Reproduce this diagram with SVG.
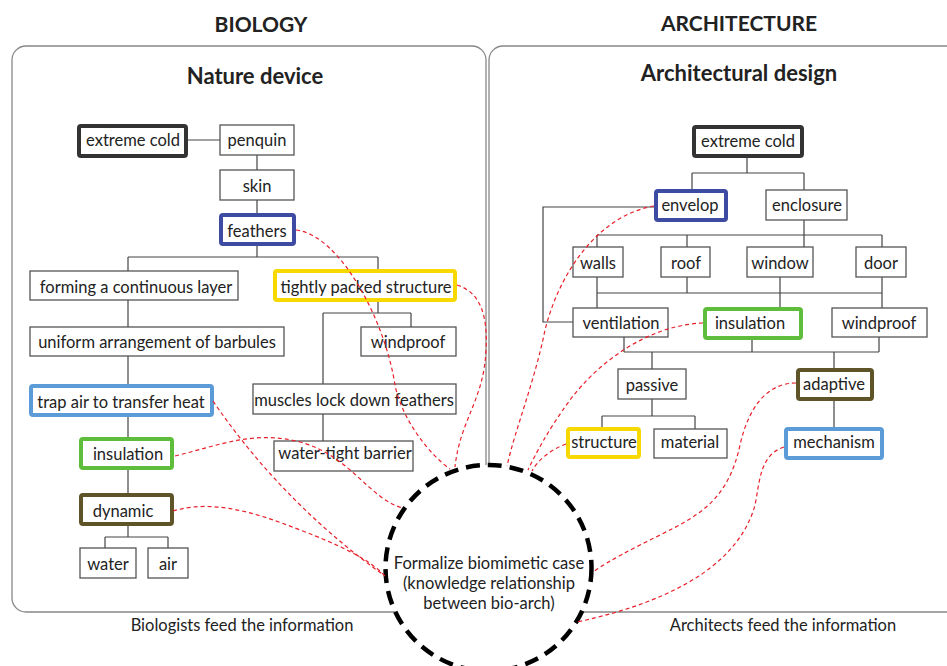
<svg xmlns="http://www.w3.org/2000/svg" width="947" height="666" viewBox="0 0 947 666">
<style>
text{font-family:Lato,"Liberation Sans",sans-serif;fill:#222;}
.t{font-size:16.5px;text-anchor:middle;dominant-baseline:central;}
.h{font-size:21px;font-weight:bold;text-anchor:middle;}
.s{font-size:22px;font-weight:bold;text-anchor:middle;}
.f{font-size:16.5px;text-anchor:middle;}
.n{fill:#fff;stroke:#555;stroke-width:1.3;}
.k{fill:#fff;stroke:#333;stroke-width:4;}
.b{fill:#fff;stroke:#3D4BA3;stroke-width:4;}
.y{fill:#fff;stroke:#F7D800;stroke-width:4;}
.g{fill:#fff;stroke:#5EBE3C;stroke-width:4;}
.o{fill:#fff;stroke:#5E5428;stroke-width:4;}
.l{fill:#fff;stroke:#5B9BD8;stroke-width:4;}
.c{fill:none;stroke:#444;stroke-width:1.2;}
.r{fill:none;stroke:#E8202A;stroke-width:1.2;stroke-dasharray:4 3;}
.p{fill:none;stroke:#888;stroke-width:1.3;}
</style>
<rect width="947" height="666" fill="#fff"/>
<g id="panels">
<rect class="p" x="12" y="46" width="474" height="566" rx="14"/>
<rect class="p" x="489" y="46" width="520" height="566" rx="14"/>
<text class="h" x="261" y="32">BIOLOGY</text>
<text class="h" x="739" y="31">ARCHITECTURE</text>
<text class="s" x="255" y="84">Nature device</text>
<text class="s" x="739" y="81">Architectural design</text>
<text class="f" x="242" y="631">Biologists feed the information</text>
<text class="f" x="783" y="631">Architects feed the information</text>
</g>
<g id="tree-lines">
<path class="c" d="M187,140H220 M257,155V170 M257,200V213 M257,246V257 M128,257H378 M128,257V271 M378,257V269 M128,300V327 M128,356V384 M128,417V437 M128,469V493 M128,526V537 M105,537H168 M105,537V548 M168,537V548 M378,302V313 M323,313H411 M411,313V327 M323,313V384 M323,414V441"/>
<path class="c" d="M747,157V173 M692,173H804 M692,173V189 M804,173V190 M654,207H543V322H573 M804,220V235 M597,235H882 M597,235V247 M687,235V247 M804,235V247 M882,235V247 M597,277V308 M687,277V293 M882,277V308 M597,293H882 M780,277V307 M624,337V352 M752,339V352 M879,337V352 M624,352H879 M652,352V369 M834,352V368 M652,399V416 M602,416H695 M602,416V427 M695,416V429 M834,401V427"/>
</g>
<g id="n-bio-cold"><rect class="k" x="79" y="126" width="107" height="30" rx="2"/><text class="t" x="133" y="140">extreme cold</text></g>
<g id="n-penquin"><rect class="n" x="220" y="125" width="74" height="30"/><text class="t" x="257" y="140">penquin</text></g>
<g id="n-skin"><rect class="n" x="220" y="170" width="74" height="30"/><text class="t" x="257" y="186">skin</text></g>
<g id="n-feathers"><rect class="b" x="221" y="215" width="73" height="29" rx="2"/><text class="t" x="257" y="231">feathers</text></g>
<g id="n-forming"><rect class="n" x="30" y="271" width="208" height="29"/><text class="t" x="136" y="287">forming a continuous layer</text></g>
<g id="n-tightly"><rect class="y" x="275" y="271" width="180" height="29" rx="2"/><text class="t" x="366" y="287">tightly packed structure</text></g>
<g id="n-uniform"><rect class="n" x="30" y="327" width="254" height="29"/><text class="t" x="157" y="342">uniform arrangement of barbules</text></g>
<g id="n-windproof-b"><rect class="n" x="361" y="327" width="95" height="29"/><text class="t" x="408" y="342">windproof</text></g>
<g id="n-trap"><rect class="l" x="31" y="386" width="181" height="29" rx="2"/><text class="t" x="121" y="402">trap air to transfer heat</text></g>
<g id="n-muscles"><rect class="n" x="253" y="384" width="203" height="30"/><text class="t" x="354" y="400">muscles lock down feathers</text></g>
<g id="n-insul-b"><rect class="g" x="81" y="439" width="91" height="29" rx="2"/><text class="t" x="128" y="454">insulation</text></g>
<g id="n-watertight"><rect class="n" x="274" y="441" width="139" height="30"/><text class="t" x="345" y="453">water-tight barrier</text></g>
<g id="n-dynamic"><rect class="o" x="81" y="495" width="91" height="29" rx="2"/><text class="t" x="123" y="511">dynamic</text></g>
<g id="n-water"><rect class="n" x="80" y="548" width="56" height="30"/><text class="t" x="108" y="564">water</text></g>
<g id="n-air"><rect class="n" x="148" y="548" width="40" height="30"/><text class="t" x="168" y="564">air</text></g>
<g id="n-arch-cold"><rect class="k" x="694" y="127" width="108" height="29" rx="2"/><text class="t" x="748" y="141">extreme cold</text></g>
<g id="n-envelop"><rect class="b" x="656" y="191" width="70" height="29" rx="2"/><text class="t" x="690" y="205">envelop</text></g>
<g id="n-enclosure"><rect class="n" x="766" y="190" width="81" height="30"/><text class="t" x="807" y="205">enclosure</text></g>
<g id="n-walls"><rect class="n" x="573" y="247" width="50" height="30"/><text class="t" x="598" y="263">walls</text></g>
<g id="n-roof"><rect class="n" x="661" y="247" width="49" height="30"/><text class="t" x="686" y="263">roof</text></g>
<g id="n-window"><rect class="n" x="747" y="247" width="66" height="30"/><text class="t" x="780" y="263">window</text></g>
<g id="n-door"><rect class="n" x="856" y="247" width="50" height="30"/><text class="t" x="881" y="263">door</text></g>
<g id="n-ventilation"><rect class="n" x="573" y="308" width="95" height="29"/><text class="t" x="621" y="323">ventilation</text></g>
<g id="n-insul-a"><rect class="g" x="705" y="309" width="96" height="29" rx="2"/><text class="t" x="750" y="323">insulation</text></g>
<g id="n-windproof-a"><rect class="n" x="832" y="308" width="95" height="29"/><text class="t" x="879" y="323">windproof</text></g>
<g id="n-passive"><rect class="n" x="618" y="369" width="68" height="30"/><text class="t" x="652" y="385">passive</text></g>
<g id="n-adaptive"><rect class="o" x="798" y="370" width="74" height="29" rx="2"/><text class="t" x="834" y="384">adaptive</text></g>
<g id="n-structure"><rect class="y" x="568" y="429" width="71" height="28" rx="2"/><text class="t" x="604" y="442">structure</text></g>
<g id="n-material"><rect class="n" x="654" y="429" width="73" height="29"/><text class="t" x="690" y="442">material</text></g>
<g id="n-mechanism"><rect class="l" x="786" y="429" width="96" height="29" rx="2"/><text class="t" x="834" y="442">mechanism</text></g>
<g id="n-center">
<circle cx="488.5" cy="568" r="103" fill="#fff" stroke="#000" stroke-width="4.5" stroke-dasharray="14 8"/>
<text class="t" x="489" y="563">Formalize biomimetic case</text>
<text class="t" x="489" y="583">(knowledge relationship</text>
<text class="t" x="489" y="603">between bio-arch)</text>
</g>
<g id="connectors">
<path class="r" d="M296,230 C340,235 385,320 395,385 C402,420 430,455 450,469"/>
<path class="r" d="M457,285 C480,292 488,315 486,350 C484,400 460,420 455,467"/>
<path class="r" d="M213,401 C260,470 320,530 385,576"/>
<path class="r" d="M175,456 C220,445 255,430 300,442 C350,455 370,500 403,508"/>
<path class="r" d="M173,511 C210,500 250,510 300,530 C340,545 370,560 384,575"/>
<path class="r" d="M654,206 C600,215 560,270 545,330 C535,380 515,430 507,466"/>
<path class="r" d="M703,323 C650,325 600,360 570,400 C548,430 535,455 528,470"/>
<path class="r" d="M566,444 C550,450 538,460 532,471"/>
<path class="r" d="M796,383 C765,383 748,410 740,445 C728,500 700,515 660,535 C630,550 610,560 593,572"/>
<path class="r" d="M784,447 C760,455 760,480 755,505 C740,560 680,600 577,622"/>
</g>
</svg>
